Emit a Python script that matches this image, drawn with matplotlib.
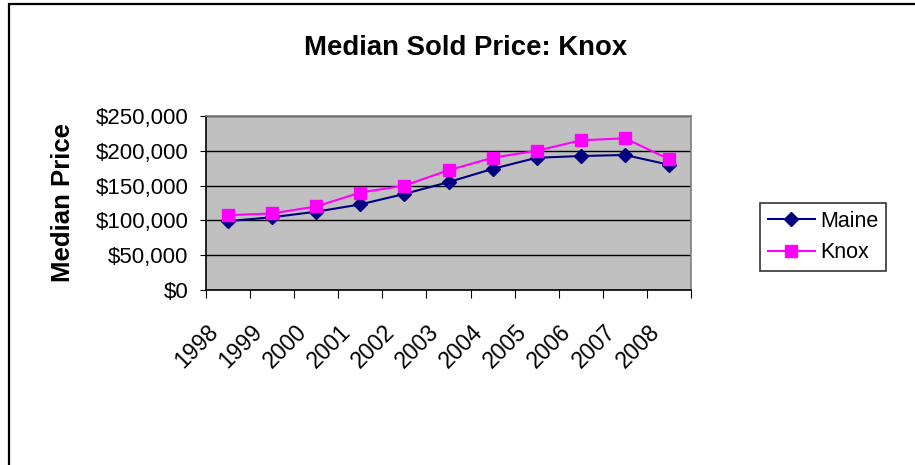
import numpy as np
import matplotlib.pyplot as plt
from matplotlib.patches import Rectangle

plt.rcParams['font.family'] = ['Liberation Sans', 'DejaVu Sans']

years = ['1998', '1999', '2000', '2001', '2002', '2003', '2004', '2005', '2006', '2007', '2008']
maine = [99000, 104500, 112500, 123000, 138000, 155000, 174000, 190000, 192500, 194000, 180000]
knox = [107500, 110000, 120000, 140000, 150000, 172000, 190000, 200000, 215000, 218000, 188000]
yticks = [0, 50000, 100000, 150000, 200000, 250000]

fig = plt.figure(figsize=(9.15, 4.65), dpi=100)
# outer chart frame
fig.patches.append(Rectangle((8.5/915, -0.1), 1.0, 1.1 - 4/465, transform=fig.transFigure,
                             fill=False, edgecolor='black', linewidth=1.6))

ax = fig.add_axes([206/915, 1 - 290/465, 485/915, 174/465])
ax.set_facecolor('#C0C0C0')

x = np.arange(len(years)) + 0.5
ax.plot(x, maine, color='#000080', marker='D', markersize=7, linewidth=1.5, label='Maine')
ax.plot(x, knox, color='#FF00FF', marker='s', markersize=8, linewidth=1.5, label='Knox')

ax.set_xlim(0, len(years))
ax.set_ylim(0, 250000)
ax.set_yticks(yticks)
ax.set_yticklabels(['${:,}'.format(v) for v in yticks], fontsize=16)
ax.yaxis.grid(True, color='black', linewidth=1)
ax.set_axisbelow(True)

# category boundaries get the tick marks, labels sit a bit left of centre (Excel style)
ax.set_xticks(np.arange(len(years) + 1))
ax.set_xticklabels([])
ax.set_xticks(x - 0.48, minor=True)
ax.set_xticklabels(years, minor=True, rotation=45, ha='right', va='top',
                   rotation_mode='anchor', fontsize=16.5)
ax.tick_params(axis='x', which='major', direction='out', length=5.5, color='black')
ax.tick_params(axis='x', which='minor', length=0, pad=22)
ax.tick_params(axis='y', direction='out', length=4.5, color='black', pad=8)

ax.spines['left'].set_color('black')
ax.spines['bottom'].set_color('black')
ax.spines['top'].set_color('#808080')
ax.spines['right'].set_color('#808080')
for s in ax.spines.values():
    s.set_linewidth(1.2)

fig.text(63/915, 1 - 202/465, 'Median Price', fontsize=18.5, fontweight='bold',
         rotation=90, ha='center', va='center')
fig.text(466/915, 1 - 48/465, 'Median Sold Price: Knox', fontsize=19.8, fontweight='bold',
         ha='center', va='center')

leg = ax.legend(loc='upper left', bbox_to_anchor=(760/915, 1 - 203/465),
                bbox_transform=fig.transFigure, fontsize=15.5, frameon=True,
                fancybox=False, edgecolor='black', handlelength=2.2,
                handletextpad=0.25, borderpad=0.35, labelspacing=0.5, borderaxespad=0)
leg.get_frame().set_linewidth(1.2)

fig.savefig('out.png', dpi=100)
